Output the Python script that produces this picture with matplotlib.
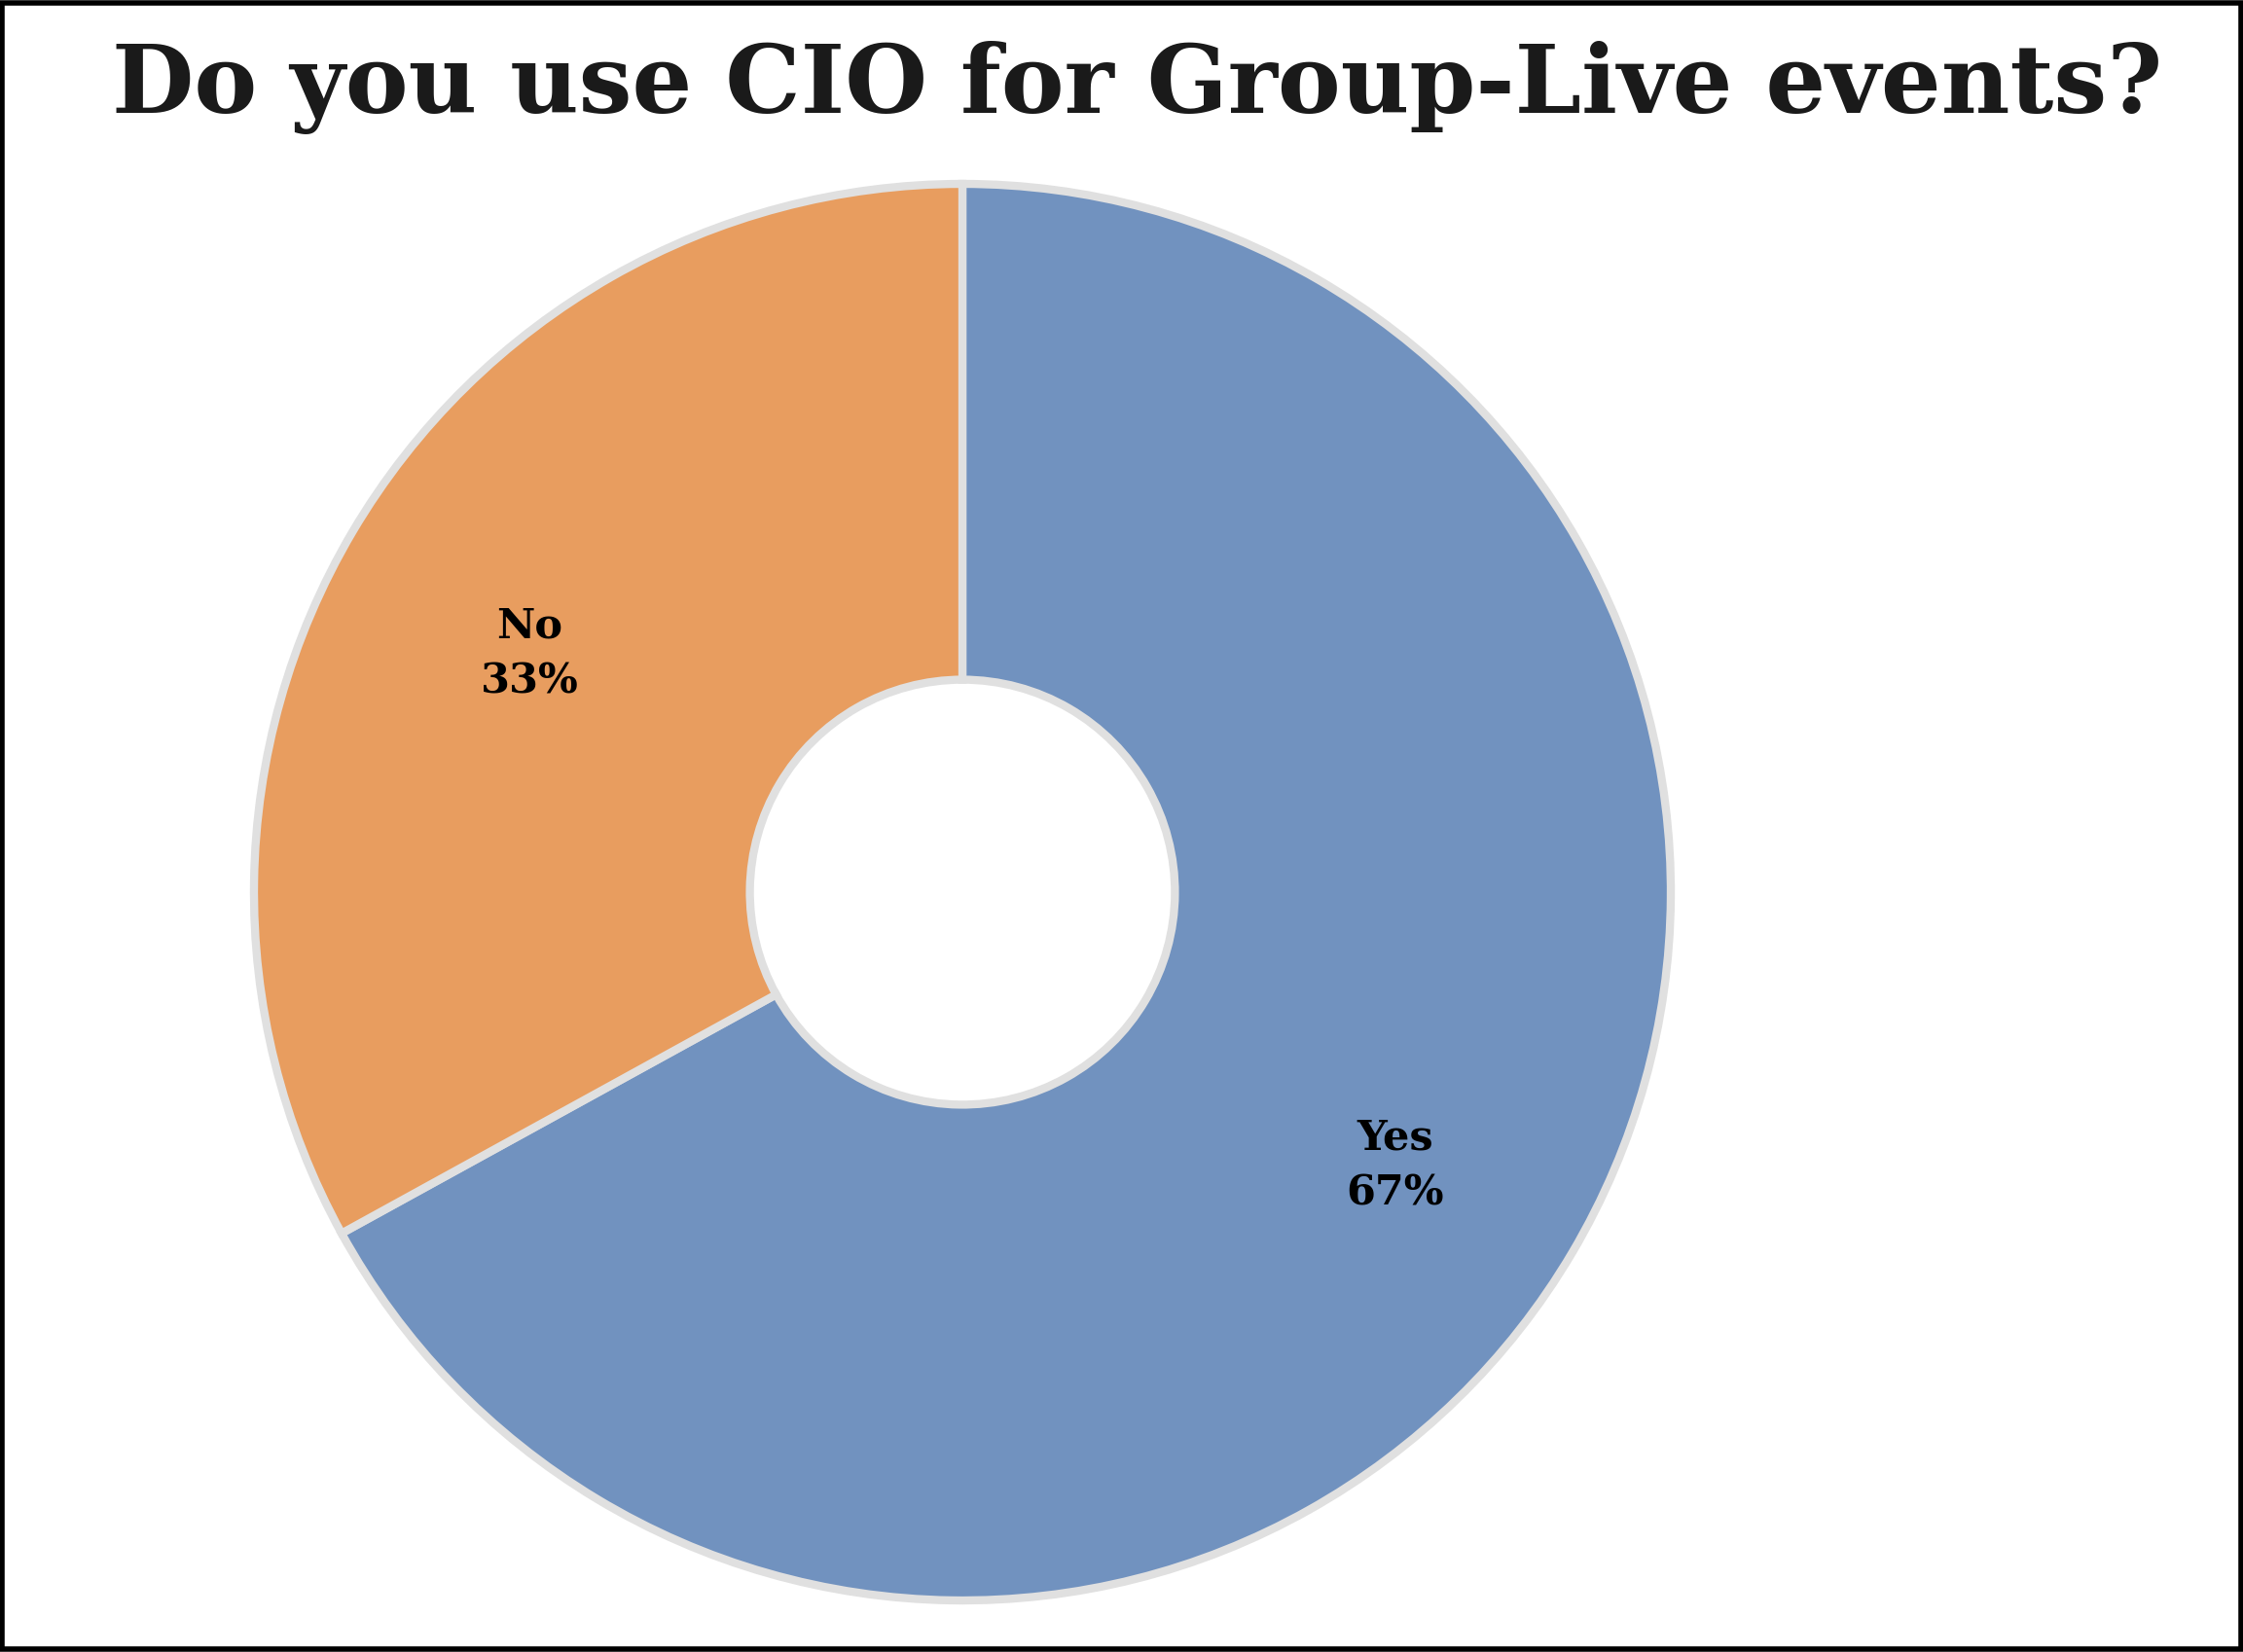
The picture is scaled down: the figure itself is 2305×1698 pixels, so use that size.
import matplotlib
matplotlib.use("Agg")
import matplotlib.pyplot as plt
from matplotlib.patches import Rectangle

labels = ["Yes", "No"]
shares = [67, 33]
colors = ["#7192bf", "#e89d5f"]
title = "Do you use CIO for Group-Live events?"

fig = plt.figure(figsize=(23.05, 16.98), dpi=100)
fig.patch.set_facecolor("white")

# pie axes placed so the ring sits left of centre, like the original
ax = fig.add_axes([261 / 2305, 53 / 1698, 1456 / 2305, 1456 / 1698])
wedges, texts = ax.pie(
    shares,
    labels=[f"{l}\n{s}%" for l, s in zip(labels, shares)],
    colors=colors,
    startangle=90,
    counterclock=False,
    radius=1.0,
    labeldistance=0.71,
    wedgeprops=dict(width=0.70, edgecolor="#e0e0e0", linewidth=6),
    textprops=dict(fontsize=31, fontweight="bold", family="DejaVu Serif",
                   color="black", ha="center", va="center", linespacing=1.45),
)
# labels sit a touch lower in the original
for t in texts:
    x, y = t.get_position()
    t.set_position((x, y - 0.025))

ax.set_xlim(-1.0, 1.0)
ax.set_ylim(-1.0, 1.0)
ax.set_aspect("equal")
ax.axis("off")

fig.text(1169 / 2305, 1 - 90 / 1698, title, ha="center", va="center",
         fontsize=70, fontweight="bold", family="DejaVu Serif", color="#1a1a1a")

# black frame round the picture
fig.patches.append(Rectangle((0.001, 0.0015), 0.998, 0.997, transform=fig.transFigure,
                             fill=False, edgecolor="black", linewidth=4))

fig.savefig("out.png", dpi=100)
